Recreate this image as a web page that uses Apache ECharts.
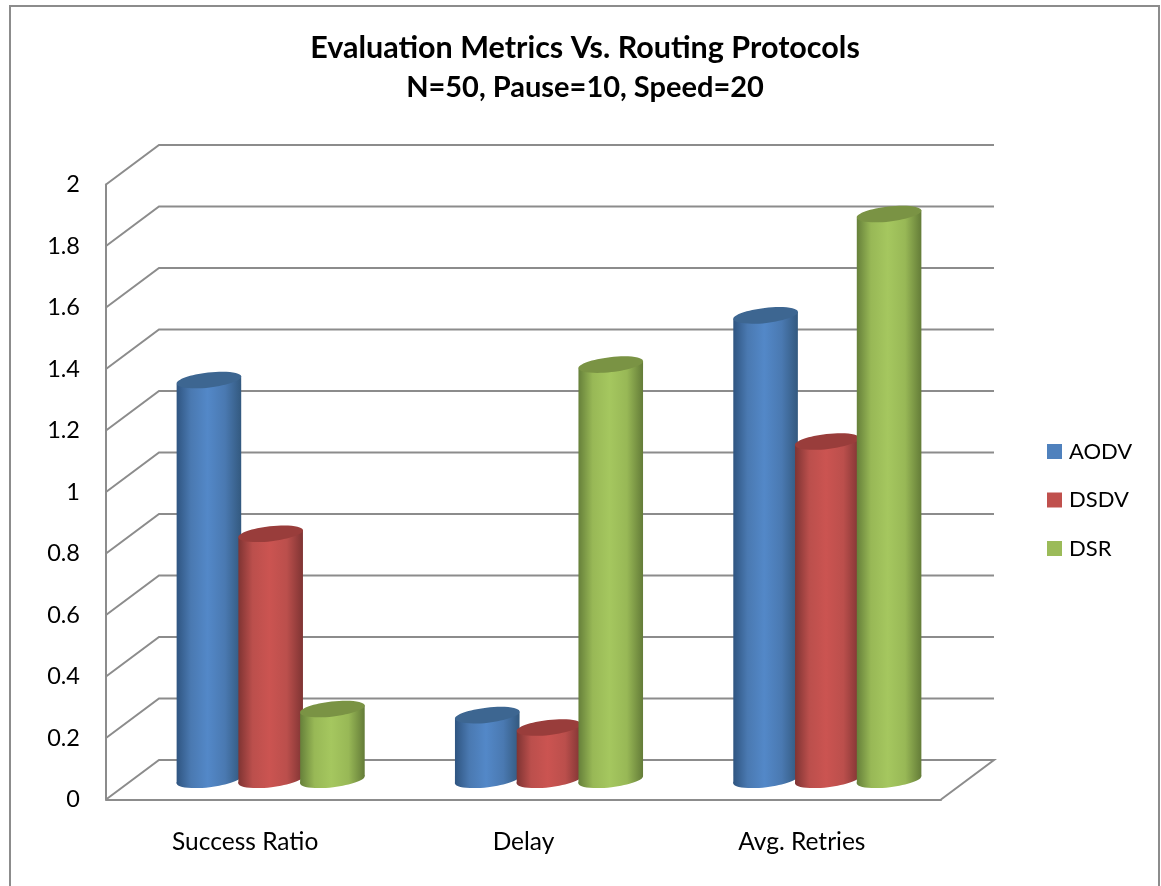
<!DOCTYPE html>
<html>
<head>
<meta charset="utf-8">
<style>html,body{margin:0;padding:0;background:#fff}#chart{width:1161px;height:886px}</style>
<script src="https://cdn.jsdelivr.net/npm/echarts@6/dist/echarts.min.js"></script>
</head>
<body>
<div id="chart"></div>
<script>
// Metrics measured for each routing protocol
const categories = ['Success Ratio', 'Delay', 'Avg. Retries'];
const aodv = [1.3, 0.21, 1.51];
const dsdv = [0.8, 0.17, 1.1];
const dsr = [0.23, 1.35, 1.84];
const yTicks = [0, 0.2, 0.4, 0.6, 0.8, 1, 1.2, 1.4, 1.6, 1.8, 2];

const FONT = 'Lato';
const GRID_COLOR = '#8c8c8c';
// Depth of the 3D box: the back wall sits this far behind the axes
const DEPTH_X = 53, DEPTH_Y = -39.5;

// Back wall and side wall rules for one tick value
function renderWall(params, api) {
  const v = api.value(1);
  const band = api.size([1, 0])[0];
  const p = api.coord([0, v]);
  const left = p[0] - band / 2;
  const right = left + band * categories.length;
  const style = { stroke: GRID_COLOR, lineWidth: 2, fill: null };
  const points = [[left, p[1]], [left + DEPTH_X, p[1] + DEPTH_Y], [right + DEPTH_X, p[1] + DEPTH_Y]];
  if (v === 0) points.push([right, p[1]]);
  return { type: 'polyline', shape: { points }, style, silent: true };
}

// Tilted cylinder standing on the middle plane of the box
function cylinderRenderer(slot, palette) {
  return function (params, api) {
    const top = api.coord([api.value(0), api.value(1)]);
    const base = api.coord([api.value(0), 0]);
    const step = 61.75, rx = 32.5, ry = 7.5;
    const rad = 6.5 * Math.PI / 180;
    const dx = rx * Math.cos(rad), dy = rx * Math.sin(rad);
    const cx = top[0] + DEPTH_X / 2 + slot * step - 1;
    const cyTop = top[1] + DEPTH_Y / 2;
    const cyBase = base[1] + DEPTH_Y / 2;
    const shade = () => new echarts.graphic.LinearGradient(0, 0, 1, 0, [
      { offset: 0, color: palette.edgeL },
      { offset: 0.22, color: palette.mid },
      { offset: 0.48, color: palette.light },
      { offset: 0.75, color: palette.mid },
      { offset: 1, color: palette.edgeR }
    ]);
    return {
      type: 'group',
      children: [
        { type: 'ellipse', shape: { cx: 0, cy: 0, rx, ry }, x: cx, y: cyBase, rotation: rad, style: { fill: shade() } },
        {
          type: 'polygon',
          shape: { points: [[cx - dx, cyTop + dy], [cx - dx, cyBase + dy], [cx + dx, cyBase - dy], [cx + dx, cyTop - dy]] },
          style: { fill: shade() }
        },
        { type: 'ellipse', shape: { cx: 0, cy: 0, rx, ry }, x: cx, y: cyTop, rotation: rad, style: { fill: palette.cap } }
      ]
    };
  };
}

const palettes = {
  AODV: { base: '#4f81bd', edgeL: '#2f5581', mid: '#4a79b1', light: '#5388c8', edgeR: '#33597f', cap: '#3d6691' },
  DSDV: { base: '#c0504d', edgeL: '#7f3433', mid: '#bb4f4c', light: '#cb5451', edgeR: '#7f3433', cap: '#993d3b' },
  DSR: { base: '#9bbb59', edgeL: '#66803a', mid: '#98b856', light: '#a5c75f', edgeR: '#647c38', cap: '#7a9344' }
};

function cylinderSeries(name, values, slot) {
  return {
    type: 'custom',
    name,
    coordinateSystem: 'cartesian2d',
    encode: { x: 0, y: 1 },
    itemStyle: { color: palettes[name].base },
    data: values.map((v, i) => [i, v]),
    renderItem: cylinderRenderer(slot, palettes[name]),
    z: 3 + slot
  };
}

const chart = echarts.init(document.getElementById('chart'), null, { renderer: 'canvas' });
chart.setOption({
  animation: false,
  backgroundColor: '#ffffff',
  title: {
    text: '{main|Evaluation Metrics Vs. Routing Protocols}\n{sub|N=50, Pause=10, Speed=20}',
    left: 580,
    top: 24,
    textAlign: 'center',
    textStyle: {
      fontFamily: FONT,
      fontWeight: 'bold',
      color: '#000',
      rich: {
        main: { fontFamily: FONT, fontWeight: 'bold', fontSize: 30.5, lineHeight: 39, color: '#000' },
        sub: { fontFamily: FONT, fontWeight: 'bold', fontSize: 29, lineHeight: 39, color: '#000' }
      }
    }
  },
  legend: {
    data: ['AODV', 'DSDV', 'DSR'],
    orient: 'vertical',
    left: 1042,
    top: 435.5,
    icon: 'rect',
    itemWidth: 15,
    itemHeight: 15,
    itemGap: 26.5,
    textStyle: { fontFamily: FONT, fontSize: 22, color: '#000', padding: [0, 0, 0, 2] }
  },
  grid: { left: 106, top: 184.5, width: 835, height: 615 },
  xAxis: {
    type: 'category',
    data: categories,
    axisLine: { lineStyle: { color: GRID_COLOR, width: 2 } },
    axisTick: { show: false },
    axisLabel: { fontFamily: FONT, fontSize: 24.5, color: '#000', margin: 30 }
  },
  yAxis: {
    type: 'value',
    min: 0,
    max: 2,
    interval: 0.2,
    axisLine: { show: true, lineStyle: { color: GRID_COLOR, width: 2 } },
    axisTick: { show: false },
    splitLine: { show: false },
    axisLabel: { fontFamily: FONT, fontSize: 23.5, color: '#000', margin: 26 }
  },
  graphic: [{
    type: 'rect',
    shape: { x: 10, y: 6, width: 1149, height: 900 },
    style: { fill: null, stroke: '#8c8c8c', lineWidth: 2 },
    silent: true
  }],
  series: [
    {
      type: 'custom',
      name: 'walls',
      coordinateSystem: 'cartesian2d',
      encode: { x: 0, y: 1 },
      data: yTicks.map(v => [0, v]),
      renderItem: renderWall,
      z: 1
    },
    cylinderSeries('AODV', aodv, -1),
    cylinderSeries('DSDV', dsdv, 0),
    cylinderSeries('DSR', dsr, 1)
  ]
});
</script>
</body>
</html>
